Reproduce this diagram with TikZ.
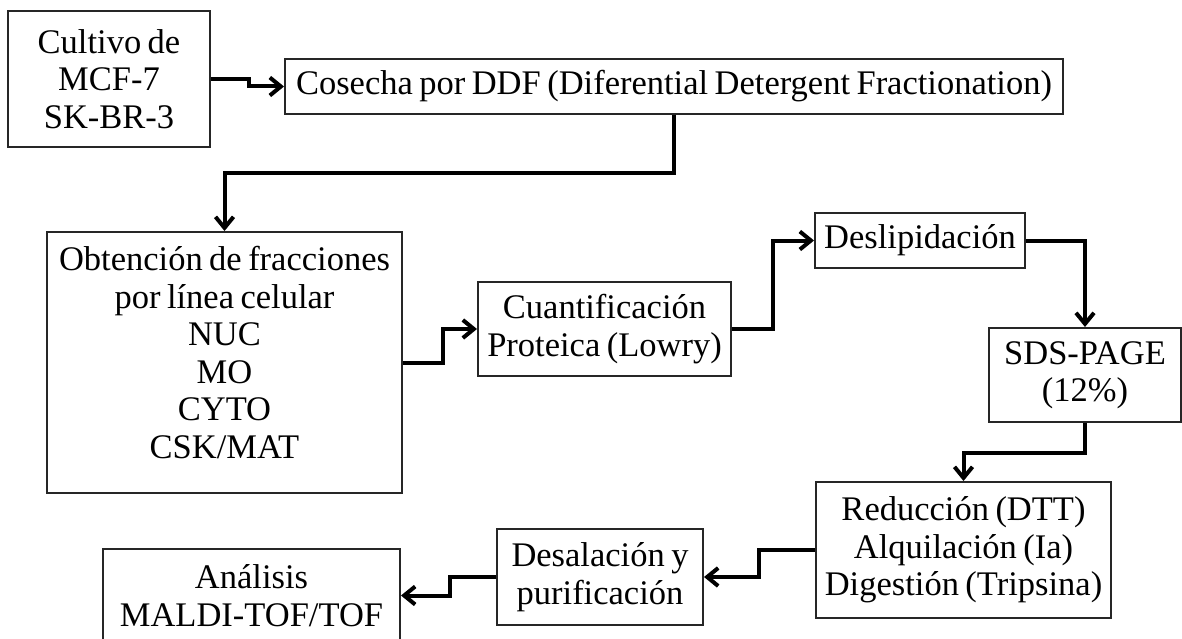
\documentclass[tikz,border=0pt]{standalone}
\usepackage{fontspec}
\setmainfont{Liberation Serif}[WordSpace=0.75]
\usetikzlibrary{arrows.meta}
\begin{document}
\begin{tikzpicture}[x=1pt,y=-1pt,
  box/.style={draw=black!85, line width=2pt, inner sep=0pt, align=center,
              font=\fontsize{34.5}{37.5}\selectfont},
  txt/.style={inner sep=0pt, align=center, font=\fontsize{34.5}{37.5}\selectfont},
  conn/.style={line width=4pt, line join=miter,
               -{Straight Barb[length=11pt,width=18pt]}}]
\useasboundingbox (0,0) rectangle (1182,639);
% boxes
\node[box, minimum width=202pt, minimum height=136pt] (cult) at (109,79) {Cultivo de\\MCF-7\\SK-BR-3};
\node[box, minimum width=778pt, minimum height=55pt] (cos) at (674,86.5) {Cosecha por DDF (Diferential Detergent Fractionation)};
\node[box, minimum width=355pt, minimum height=261pt] (obt) at (224.5,362.5) {};
\node[txt] (obtt) at (224.5,352.5) {Obtención de fracciones\\por línea celular\\NUC\\MO\\CYTO\\CSK/MAT};
\node[box, minimum width=253pt, minimum height=94pt] (cuant) at (604.5,329) {Cuantificación\\Proteica (Lowry)};
\node[box, minimum width=210pt, minimum height=55pt] (desl) at (920,240.5) {Deslipidación};
\node[box, minimum width=192pt, minimum height=94pt] (sds) at (1085,375) {SDS-PAGE\\(12\%)};
\node[box, minimum width=295pt, minimum height=136pt] (red) at (963.5,550) {Reducción (DTT)\\Alquilación (Ia)\\Digestión (Tripsina)};
\node[box, minimum width=206pt, minimum height=96pt] (desal) at (600,577) {Desalación y\\purificación};
\node[box, minimum width=297pt, minimum height=93pt] (anal) at (251.5,595.5) {Análisis\\MALDI-TOF/TOF};
% connectors
\draw[conn] (cult.east) -- ++(38,0) |- (cos.west);
\draw[conn] (cos.south) -- ++(0,58.5) -| (obt.north);
\draw[conn] (obt.east) -- ++(40,0) |- (cuant.west);
\draw[conn] (cuant.east) -- ++(41,0) |- (desl.west);
\draw[conn] (desl.east) -| (sds.north);
\draw[conn] (sds.south) -- ++(0,30) -| (red.north);
\draw[conn] (red.west) -- ++(-56,0) |- (desal.east);
\draw[conn] (desal.west) -- ++(-46,0) |- (anal.east);
\end{tikzpicture}
\end{document}
